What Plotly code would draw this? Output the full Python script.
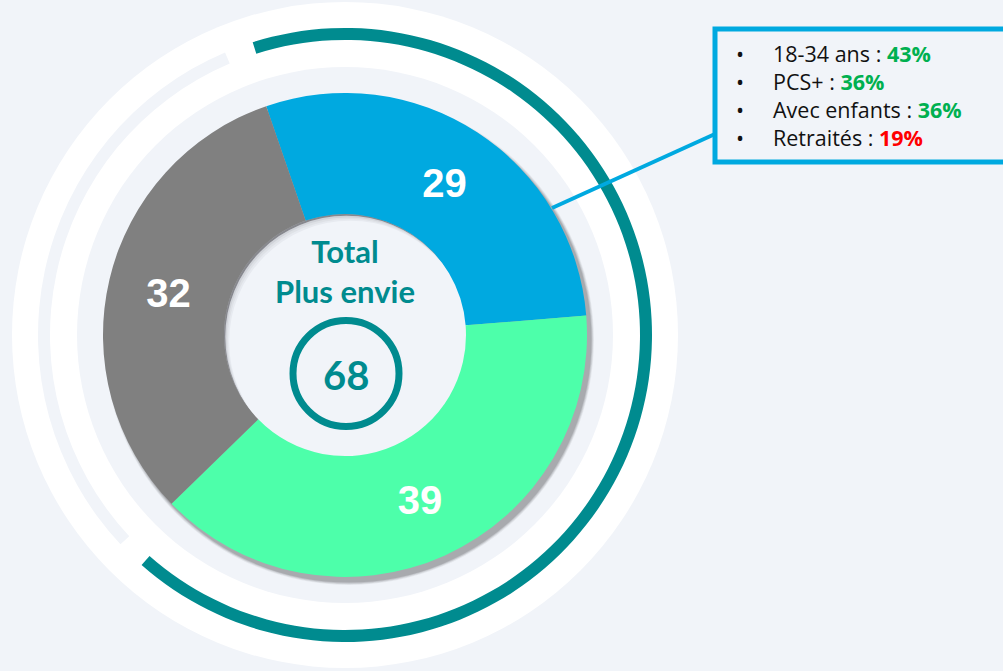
import plotly.graph_objects as go

W, H = 1003, 671
BG = "#f1f4f9"
TEAL = "#008b8f"
BLUE = "#00a9e0"

# donut data
segments = ["Plus envie A", "Plus envie B", "Plus envie C"]
seg_values = [29, 39, 32]
seg_colors = [BLUE, "#4dffaa", "#808080"]

total_label = "Total<br>Plus envie"
total_value = 68

# decorative outer ring arcs (degrees): teal arc, gap, light arc, gap
ring_arcs = [239, 5.5, 110, 5.5]
ring_colors = [TEAL, "rgba(0,0,0,0)", BG, "rgba(0,0,0,0)"]

# callout
callout_labels = ["18-34 ans : ", "PCS+ : ", "Avec enfants : ", "Retraités : "]
callout_values = ["43%", "36%", "36%", "19%"]
callout_colors = ["#00b050", "#00b050", "#00b050", "#ff0000"]

CX, CY = 345, 335
R_OUT, R_IN = 242, 121


def px(x):
    return x / W


def py(y):
    return 1 - y / H


def dom(r, cx=CX, cy=CY):
    return dict(x=[px(cx - r), px(cx + r)], y=[py(cy + r), py(cy - r)])


def circle(r, cx=CX, cy=CY, fill=None, line=None, width=0, layer="below"):
    return dict(type="circle", xref="paper", yref="paper",
                x0=px(cx - r), x1=px(cx + r), y0=py(cy + r), y1=py(cy - r),
                fillcolor=fill or "rgba(0,0,0,0)",
                line=dict(color=line or "rgba(0,0,0,0)", width=width),
                layer=layer)


shapes = [
    circle(333, fill="white"),
    circle(268, fill=BG),
]
# soft drop shadow of the donut (bottom-right)
for i, a in enumerate([0.05, 0.07, 0.09, 0.12]):
    shapes.append(circle(R_OUT + 3 - i * 0.8, CX + 4, CY + 5, fill=f"rgba(0,0,0,{a})"))
# inset shadow of the hole (top-left)
for k, a in enumerate([0.3, 0.18, 0.1, 0.05]):
    shapes.append(circle(R_IN, CX + k * 1.3, CY + k * 1.7, fill=f"rgba(60,60,70,{a})"))
    shapes.append(circle(R_IN, CX + (k + 1) * 1.3, CY + (k + 1) * 1.7, fill=BG))

# ring around the total
shapes.append(circle(53, 346, 373.5, line=TEAL, width=7, layer="above"))
# callout box and connector
shapes.append(dict(type="rect", xref="paper", yref="paper",
                   x0=px(715), x1=px(1012), y0=py(162), y1=py(29),
                   fillcolor=BG, line=dict(color=BLUE, width=5), layer="above"))
shapes.append(dict(type="line", xref="paper", yref="paper",
                   x0=px(552), y0=py(208), x1=px(715), y1=py(134),
                   line=dict(color=BLUE, width=4), layer="above"))

fig = go.Figure()

fig.add_trace(go.Pie(
    values=ring_arcs, marker=dict(colors=ring_colors, line=dict(width=0)),
    hole=295 / 307, domain=dom(307), sort=False, direction="clockwise",
    rotation=-17.5, textinfo="none", hoverinfo="skip", showlegend=False,
))

fig.add_trace(go.Pie(
    labels=segments, values=seg_values,
    marker=dict(colors=seg_colors, line=dict(width=0)),
    hole=R_IN / R_OUT, domain=dom(R_OUT), sort=False, direction="clockwise",
    rotation=-19, texttemplate="<b>%{value}</b>", textposition="inside",
    insidetextorientation="horizontal",
    textfont=dict(family="Liberation Sans, Arial", size=40, color="white"),
    hoverinfo="label+value", showlegend=False,
))

# callout lines as one multi-line block (line height = 1.3 * font size)
bullet_text = "<br>".join("•" for _ in callout_labels)
callout_text = "<br>".join(
    f"{lab}<b><span style='color:{col}'>{val}</span></b>"
    for lab, val, col in zip(callout_labels, callout_values, callout_colors)
)

annotations = [
    dict(x=px(345), y=py(271), text=f"<b>{total_label}</b>",
         font=dict(family="Lato, sans-serif", size=31, color=TEAL)),
    dict(x=px(346), y=py(375), text=f"<b>{total_value}</b>",
         font=dict(family="Lato, sans-serif", size=40, color=TEAL)),
    dict(x=px(734), y=py(95), text=bullet_text, xanchor="left", align="left",
         font=dict(family="Open Sans, sans-serif", size=21.5, color="#111")),
    dict(x=px(771), y=py(95), text=callout_text, xanchor="left", align="left",
         font=dict(family="Open Sans, sans-serif", size=21.5, color="#111")),
]
for a in annotations:
    a.update(xref="paper", yref="paper", showarrow=False, yanchor="middle")
    a.setdefault("xanchor", "center")

fig.update_layout(
    width=W, height=H, margin=dict(l=0, r=0, t=0, b=0),
    paper_bgcolor=BG, plot_bgcolor=BG,
    shapes=shapes, annotations=annotations,
)

fig.write_html("out.html", post_script="document.body.style.margin='0';",
               config={"displayModeBar": False})
